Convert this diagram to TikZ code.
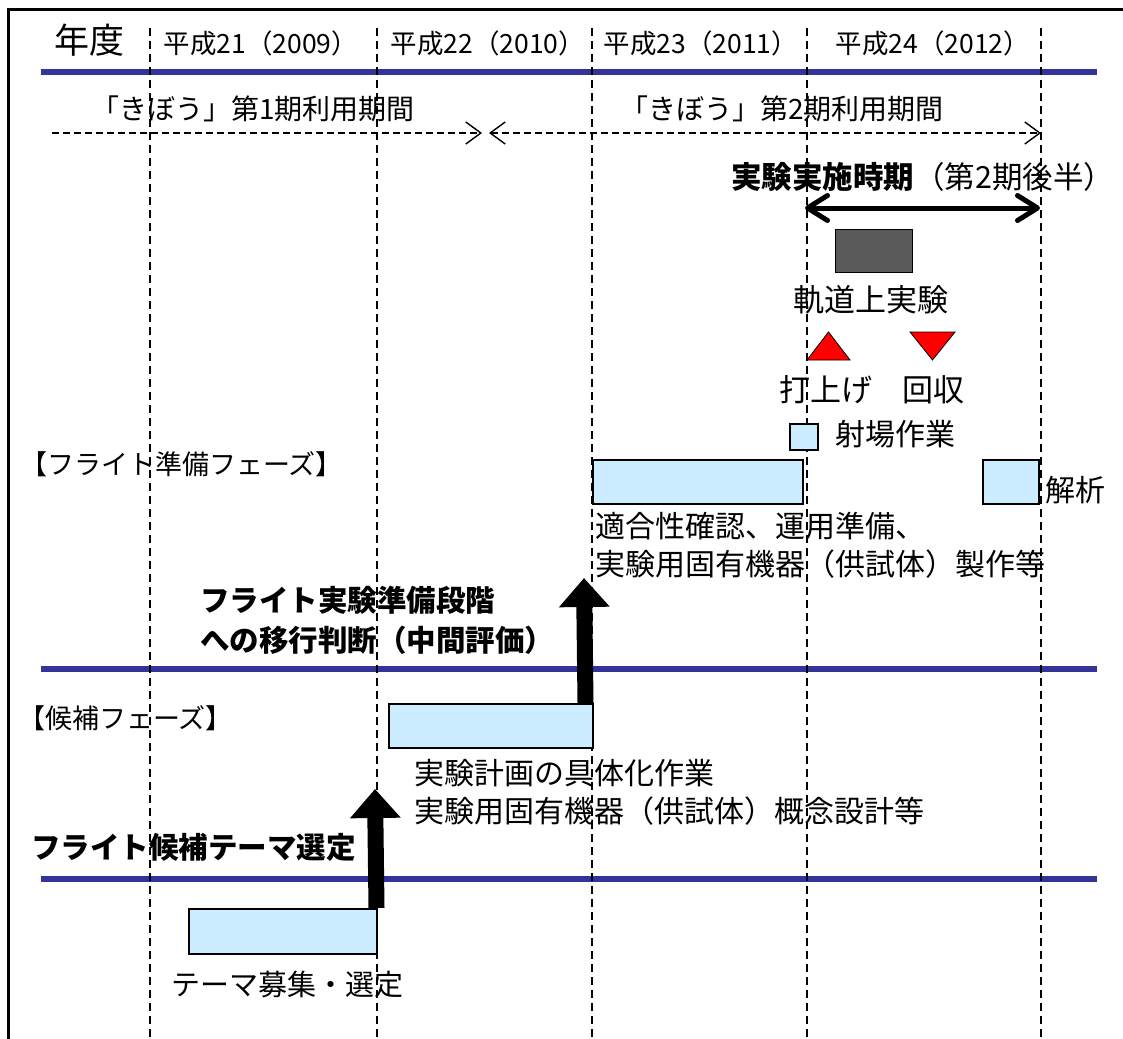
\documentclass[tikz,border=0pt]{standalone}
\usepackage{fontspec}
\setmainfont{Noto Sans CJK JP}
\usetikzlibrary{arrows.meta}
\definecolor{lineblue}{RGB}{51,51,153}
\definecolor{barblue}{RGB}{204,236,255}
\definecolor{darkbox}{RGB}{89,89,89}
\newcommand{\fsz}[1]{\fontsize{#1}{#1}\selectfont}
\begin{document}
\begin{tikzpicture}[x=1pt,y=-1pt,
  txt/.style={inner sep=0pt},
  body/.style={txt, font={\fsz{30}}},
  yearlbl/.style={txt, font={\fsz{26.5}}},
  boldlbl/.style={txt, font={\fsz{29.5}\bfseries}},
  phase/.style={txt, font={\fsz{27}}},
  bar/.style={draw=black, line width=1.5pt, fill=barblue, inner sep=0pt, anchor=north west},
  sepline/.style={draw=lineblue, line width=6.5pt},
  grid/.style={draw=black, line width=1.4pt, dash pattern=on 8pt off 5pt},
  period/.style={draw=black, line width=1.4pt, dash pattern=on 7pt off 4pt},
  periodtip/.style={-{Straight Barb[length=15pt,width=22pt]}},
  bigarrow/.style={draw=black, line width=16pt, -{Triangle[length=29pt,width=49pt]}},
  tri/.style={draw=black, line width=0.8pt, fill=red}]
\useasboundingbox (0,0) rectangle (1123,1038);
\clip (0,0) rectangle (1123,1038);
\fill[white] (0,0) rectangle (1123,1038);
% frame
\draw[line width=3pt] (8,1060) -- (8,10) -- (1140,10);
% separator lines
\coordinate (s1a) at (41,72);  \coordinate (s1b) at (1097,72);
\coordinate (s2a) at (41,669); \coordinate (s2b) at (1097,669);
\coordinate (s3a) at (41,879); \coordinate (s3b) at (1097,879);
\draw[sepline] (s1a) -- (s1b);
\draw[sepline] (s2a) -- (s2b);
\draw[sepline] (s3a) -- (s3b);
% year grid
\foreach \gx/\gn in {150/g1,377/g2,592/g3,807/g4,1041/g5}{
  \coordinate (\gn t) at (\gx,28);
  \coordinate (\gn b) at (\gx,1045);
  \draw[grid] (\gn t) -- (\gn b);
}
% header
\node[txt, font={\fsz{35}}] (nendo) at (89,40) {年度};
\node[yearlbl] (y21) at (261,43) {平成21（2009）};
\node[yearlbl] (y22) at (488,43) {平成22（2010）};
\node[yearlbl] (y23) at (701,43) {平成23（2011）};
\node[yearlbl] (y24) at (933,43) {平成24（2012）};
% kibo periods
\node[txt, font={\fsz{28}}] (p1) at (253,109) {「きぼう」第1期利用期間};
\node[txt, font={\fsz{28}}] (p2) at (782,109) {「きぼう」第2期利用期間};
\coordinate (p1a) at (52,133);  \coordinate (p1b) at (482,133);
\coordinate (p2a) at (489,133); \coordinate (p2b) at (1041,133);
\draw[period, periodtip] (p1a) -- (p1b);
\draw[period, {Straight Barb[length=15pt,width=22pt]}-{Straight Barb[length=15pt,width=22pt]}] (p2a) -- (p2b);
% experiment period
\node[txt, anchor=west, font={\fsz{30.5}}] (exper) at (731,177) {{\bfseries 実験実施時期}（第2期後半）};
\coordinate (ea) at (805,208); \coordinate (eb) at (1040,208);
\draw[line width=5pt, line cap=round, {Straight Barb[length=20pt,width=25pt,line cap=round,line join=round]}-{Straight Barb[length=20pt,width=25pt,line cap=round,line join=round]}] (ea) -- (eb);
\node[draw=black, line width=1pt, fill=darkbox, anchor=north west, minimum width=77pt, minimum height=43pt, inner sep=0pt] (orbit) at (835,229) {};
\node[txt, font={\fsz{31}}] (orbitlbl) at (871,300) {軌道上実験};
\draw[tri] (807,360) -- (850,360) -- (828.5,332) -- cycle;
\draw[tri] (910,332) -- (955,332) -- (932.5,360) -- cycle;
\node[txt, font={\fsz{31}}] (launch) at (826,390) {打上げ};
\node[txt, font={\fsz{31}}] (recov) at (933,390) {回収};
\node[bar, minimum width=28pt, minimum height=26pt] (range) at (789,423) {};
\node[body, anchor=west] (rangelbl) at (835,434) {射場作業};
% flight preparation phase
\node[phase, anchor=west] (fphase) at (20,464) {【フライト準備フェーズ】};
\node[bar, minimum width=210pt, minimum height=44pt] (prep) at (592,459) {};
\node[bar, minimum width=56pt, minimum height=44pt] (anal) at (982,459) {};
\node[body, anchor=west] (anallbl) at (1045,490) {解析};
\node[body, anchor=west] (prep1) at (595,526) {適合性確認、運用準備、};
\node[body, anchor=west] (prep2) at (595,564) {実験用固有機器（供試体）製作等};
\node[boldlbl, anchor=west] (mid1) at (200,600) {フライト実験準備段階};
\node[boldlbl, anchor=west] (mid2) at (200,640) {への移行判断（中間評価）};
% candidate phase
\node[phase, anchor=west] (cphase) at (18,718) {【候補フェーズ】};
\node[bar, minimum width=204pt, minimum height=44pt] (cand) at (388,703) {};
\node[body, anchor=west] (cand1) at (414,773) {実験計画の具体化作業};
\node[body, anchor=west] (cand2) at (414,811) {実験用固有機器（供試体）概念設計等};
\node[boldlbl, anchor=west] (sel) at (31,847) {フライト候補テーマ選定};
\node[bar, minimum width=188pt, minimum height=45pt] (theme) at (188,908) {};
\node[txt, anchor=west, font={\fsz{29}}] (themelbl) at (171,985) {テーマ募集・選定};
% big arrows
\coordinate (a1s) at ([xshift=-8pt]cand.north east);
\coordinate (a1e) at (584,578);
\draw[bigarrow] (a1s) -- (a1e);
\coordinate (a2s) at ([xshift=-1pt]theme.north east);
\coordinate (a2e) at (375,789);
\draw[bigarrow] (a2s) -- (a2e);
\end{tikzpicture}
\end{document}
